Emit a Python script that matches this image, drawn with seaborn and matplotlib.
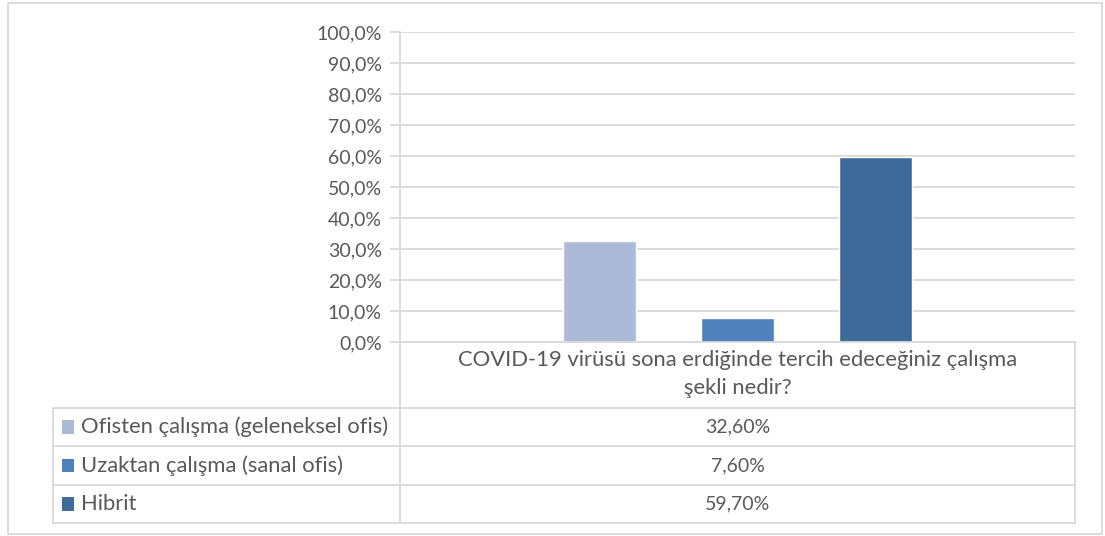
import matplotlib
matplotlib.use("Agg")
import matplotlib.pyplot as plt
from matplotlib.lines import Line2D
from matplotlib.patches import Rectangle
from matplotlib.ticker import FuncFormatter
import seaborn as sns
import pandas as pd

# Survey question and answer shares (percent)
question = "COVID-19 virüsü sona erdiğinde tercih edeceğiniz çalışma\nşekli nedir?"
series = ["Ofisten çalışma (geleneksel ofis)", "Uzaktan çalışma (sanal ofis)", "Hibrit"]
values = [32.6, 7.6, 59.7]
value_labels = ["32,60%", "7,60%", "59,70%"]
colors = ["#ABBAD6", "#4F81BD", "#3E6A9A"]
yticks = [0, 10, 20, 30, 40, 50, 60, 70, 80, 90, 100]

sns.set_theme(style="white")
plt.rcParams["font.family"] = ["Lato", "DejaVu Sans"]

W, H = 1105, 536
fig = plt.figure(figsize=(W / 100, H / 100), dpi=100)
fig.patch.set_facecolor("white")

text_color = "#595959"
line_color = "#D9D9D9"
fs_text = 15.8
fs_num = 14

# pixel helpers (origin top-left)
def fx(px):
    return px / W

def fy(py):
    return 1 - py / H

x_left, x_right = 400, 1075
y_top, y_zero = 32, 342
ax = fig.add_axes([fx(x_left), fy(y_zero), fx(x_right) - fx(x_left), fy(y_top) - fy(y_zero)])

df = pd.DataFrame({"Soru": [question] * len(series), "Seçenek": series, "Oran": values})
sns.barplot(data=df, x="Soru", y="Oran", hue="Seçenek", palette=colors,
            width=0.615, gap=0.473, ax=ax, legend=False, saturation=1)

ax.set_xlim(-0.5, 0.5)
ax.set_ylim(0, 100)
ax.set_yticks(yticks)
ax.yaxis.set_major_formatter(FuncFormatter(lambda v, p: f"{v:.1f}".replace(".", ",") + "%"))
ax.yaxis.grid(True, color=line_color, linewidth=1.3)
ax.set_axisbelow(True)
for s in ["top", "right"]:
    ax.spines[s].set_visible(False)
ax.spines["left"].set_visible(False)
ax.spines["bottom"].set_color(line_color)
ax.spines["bottom"].set_linewidth(1.3)
ax.tick_params(axis="y", length=7, width=1.3, color=line_color, labelcolor=text_color,
               labelsize=fs_num, pad=6, left=True)
ax.tick_params(axis="x", length=0, labelcolor=text_color, labelsize=fs_text, pad=6)
ax.set_xlabel("")
ax.set_ylabel("")
for lbl in ax.get_xticklabels():
    lbl.set_multialignment("center")
    lbl.set_linespacing(1.45)

# data table below the plot
tab_left = 53
row_y = [408, 446, 485, 523]
lw = 1.3
def hline(y, x0, x1):
    fig.add_artist(Line2D([fx(x0), fx(x1)], [fy(y), fy(y)], color=line_color, lw=lw))

def vline(x, y0, y1):
    fig.add_artist(Line2D([fx(x), fx(x)], [fy(y0), fy(y1)], color=line_color, lw=lw))

for y in row_y:
    hline(y, tab_left, x_right)
vline(tab_left, row_y[0], row_y[-1])
vline(x_left, y_top, row_y[-1])
vline(x_right, y_zero, row_y[-1])

for i, (name, lab, col) in enumerate(zip(series, value_labels, colors)):
    yc = (row_y[i] + row_y[i + 1]) / 2
    fig.add_artist(Rectangle((fx(62), fy(yc + 6.5)), fx(12), fy(yc - 6.5) - fy(yc + 6.5),
                             facecolor=col, edgecolor="none"))
    fig.text(fx(81), fy(yc), name, ha="left", va="center", fontsize=fs_text, color=text_color)
    fig.text(fx((x_left + x_right) / 2), fy(yc), lab, ha="center", va="center",
             fontsize=fs_num, color=text_color)

# chart border
fig.add_artist(Rectangle((fx(8), fy(534)), fx(1102) - fx(8), fy(3) - fy(534),
                         facecolor="none", edgecolor=line_color, lw=1.3))

fig.savefig("out.png", dpi=100)
